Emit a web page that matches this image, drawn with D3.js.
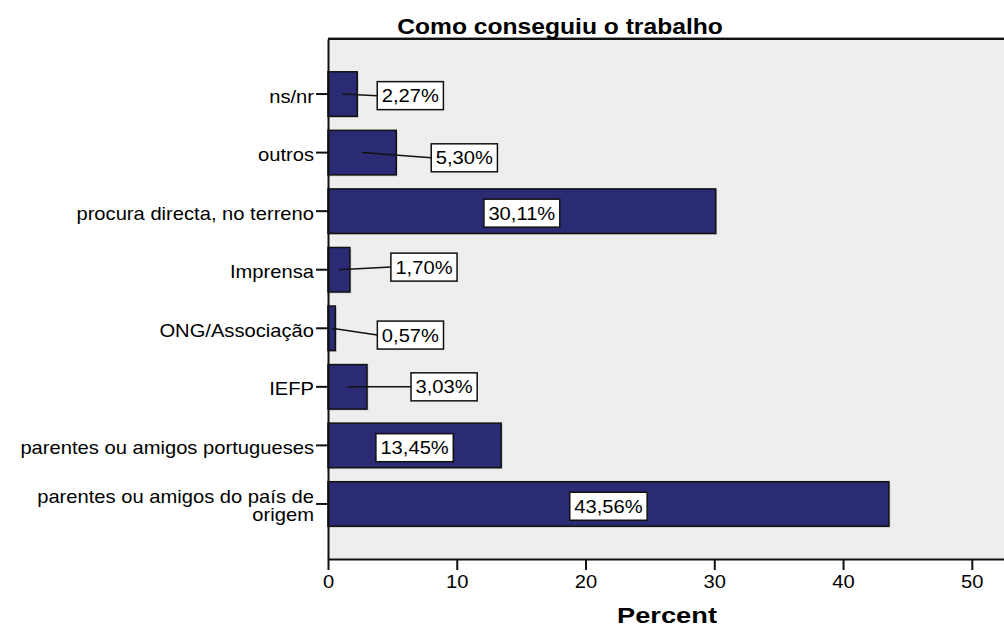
<!DOCTYPE html>
<html>
<head>
<meta charset="utf-8">
<script src="https://cdn.jsdelivr.net/npm/d3@7"></script>
<style>
  html, body { margin: 0; padding: 0; background: #ffffff; }
  svg { display: block; }
  text { font-family: "Liberation Sans", Arial, sans-serif; fill: #000; }
</style>
</head>
<body>
<svg id="chart" width="1004" height="627"></svg>
<script>
// ---- data ----
const categories = [
  "ns/nr",
  "outros",
  "procura directa, no terreno",
  "Imprensa",
  "ONG/Associação",
  "IEFP",
  "parentes ou amigos portugueses",
  "parentes ou amigos do país de\norigem"
];
const percents = [2.27, 5.30, 30.11, 1.70, 0.57, 3.03, 13.45, 43.56];
const xTicks = [0, 10, 20, 30, 40, 50];
const titleText = "Como conseguiu o trabalho";
const xAxisTitle = "Percent";

// ---- layout ----
const W = 1004, H = 627;
const plot = { left: 328, right: 1004, top: 39, bottom: 559 };
const SX = 1.12; // horizontal stretch of the reference text
// label placement: inside (centered in bar) or outside with pixel offset from bar end and centre
const labelPlace = [
  { inside: false, dx: 20, dy: 1.6 },
  { inside: false, dx: 35, dy: 5.2 },
  { inside: true,  dx: 0,  dy: 2 },
  { inside: false, dx: 41, dy: -2.6 },
  { inside: false, dx: 42, dy: 6.8 },
  { inside: false, dx: 44, dy: 0 },
  { inside: true,  dx: 0,  dy: 2.3 },
  { inside: true,  dx: 0,  dy: 2.3 }
];

const svg = d3.select("#chart");

const x = d3.scaleLinear().domain([0, 52.5]).range([plot.left, plot.right]);
const y = d3.scaleBand().domain(categories).range([plot.top, plot.bottom])
  .paddingInner(0.24).paddingOuter(0.56);

// plot background
svg.append("rect")
  .attr("x", plot.left).attr("y", plot.top)
  .attr("width", plot.right - plot.left).attr("height", plot.bottom - plot.top)
  .attr("fill", "#eeeeee");

// top border
svg.append("line").attr("x1", plot.left).attr("x2", plot.right)
  .attr("y1", plot.top - 1.5).attr("y2", plot.top - 1.5)
  .attr("stroke", "#9a9a9a").attr("stroke-width", 1);
svg.append("line").attr("x1", plot.left).attr("x2", plot.right)
  .attr("y1", plot.top).attr("y2", plot.top)
  .attr("stroke", "#111").attr("stroke-width", 2);

const data = categories.map((c, i) => ({ cat: c, v: percents[i], place: labelPlace[i] }));

// bar shadows
svg.append("g").selectAll("rect").data(data).join("rect")
  .attr("x", x(0)).attr("y", d => y(d.cat) + 1.5)
  .attr("width", d => x(d.v) - x(0) + 1.5).attr("height", y.bandwidth())
  .attr("fill", "#c8c8c8");

// bars
svg.append("g").selectAll("rect").data(data).join("rect")
  .attr("x", x(0)).attr("y", d => y(d.cat))
  .attr("width", d => x(d.v) - x(0)).attr("height", y.bandwidth())
  .attr("fill", "#2a2a75")
  .attr("stroke", "#111").attr("stroke-width", 1.5);

// x axis
const xAxis = svg.append("g").attr("transform", `translate(0,${plot.bottom})`)
  .call(d3.axisBottom(x).tickValues(xTicks).tickSize(11).tickSizeOuter(0).tickPadding(4)
    .tickFormat(d3.format("d")));
xAxis.select(".domain").attr("stroke", "#111").attr("stroke-width", 2);
xAxis.selectAll(".tick line").attr("stroke", "#111").attr("stroke-width", 2);
xAxis.selectAll(".tick text").remove();
xAxis.selectAll(".tick").append("text")
  .attr("transform", `translate(0,29) scale(${SX},1)`)
  .attr("text-anchor", "middle")
  .style("font-size", "18px")
  .text(d => d3.format("d")(d));

// y axis
const yAxis = svg.append("g").attr("transform", `translate(${plot.left},0)`)
  .call(d3.axisLeft(y).tickSize(12).tickSizeOuter(0));
yAxis.select(".domain").attr("stroke", "#111").attr("stroke-width", 2);
yAxis.selectAll(".tick line").attr("stroke", "#111").attr("stroke-width", 2);
yAxis.selectAll(".tick text").remove();
yAxis.selectAll(".tick").each(function(d) {
  const lines = d.split("\n");
  const t = d3.select(this).append("text")
    .attr("transform", `translate(-14,0) scale(${SX},1)`)
    .attr("text-anchor", "end")
    .style("font-size", "18px");
  if (lines.length === 1) {
    t.append("tspan").attr("x", 0).attr("dy", "0.48em").text(lines[0]);
  } else {
    lines.forEach((ln, i) => {
      t.append("tspan").attr("x", 0).attr("y", -0.5 + i * 18).text(ln);
    });
  }
});

// value labels
const fmt = v => d3.format(".2f")(v).replace(".", ",") + "%";
const lg = svg.append("g");
data.forEach(d => {
  const cy = y(d.cat) + y.bandwidth() / 2;
  const barMidX = (x(0) + x(d.v)) / 2;
  const g = lg.append("g");
  const txt = g.append("text")
    .attr("text-anchor", "middle")
    .style("font-size", "18px")
    .text(fmt(d.v));
  const tw = txt.node().getComputedTextLength() * SX;
  const bw = tw + 9, bh = 28;
  let bx, by;
  by = cy + d.place.dy - bh / 2;
  if (d.place.inside) {
    bx = barMidX - bw / 2;
  } else {
    bx = x(d.v) + d.place.dx;
    g.insert("line", "text")
      .attr("x1", barMidX).attr("y1", cy)
      .attr("x2", bx).attr("y2", by + bh / 2)
      .attr("stroke", "#111").attr("stroke-width", 1.5);
  }
  g.insert("rect", "text")
    .attr("x", bx).attr("y", by).attr("width", bw).attr("height", bh)
    .attr("fill", "#fff").attr("stroke", "#111").attr("stroke-width", 1.5);
  txt.attr("transform", `translate(${bx + bw / 2},${by + bh / 2 + 6.5}) scale(${SX},1)`);
});

// title
svg.append("text")
  .attr("transform", `translate(560,34) scale(1.12,1)`)
  .attr("text-anchor", "middle")
  .style("font-size", "22px").style("font-weight", "bold")
  .text(titleText);

// x axis title
svg.append("text")
  .attr("transform", `translate(667,623) scale(1.24,1)`)
  .attr("text-anchor", "middle")
  .style("font-size", "22px").style("font-weight", "bold")
  .text(xAxisTitle);
</script>
</body>
</html>
